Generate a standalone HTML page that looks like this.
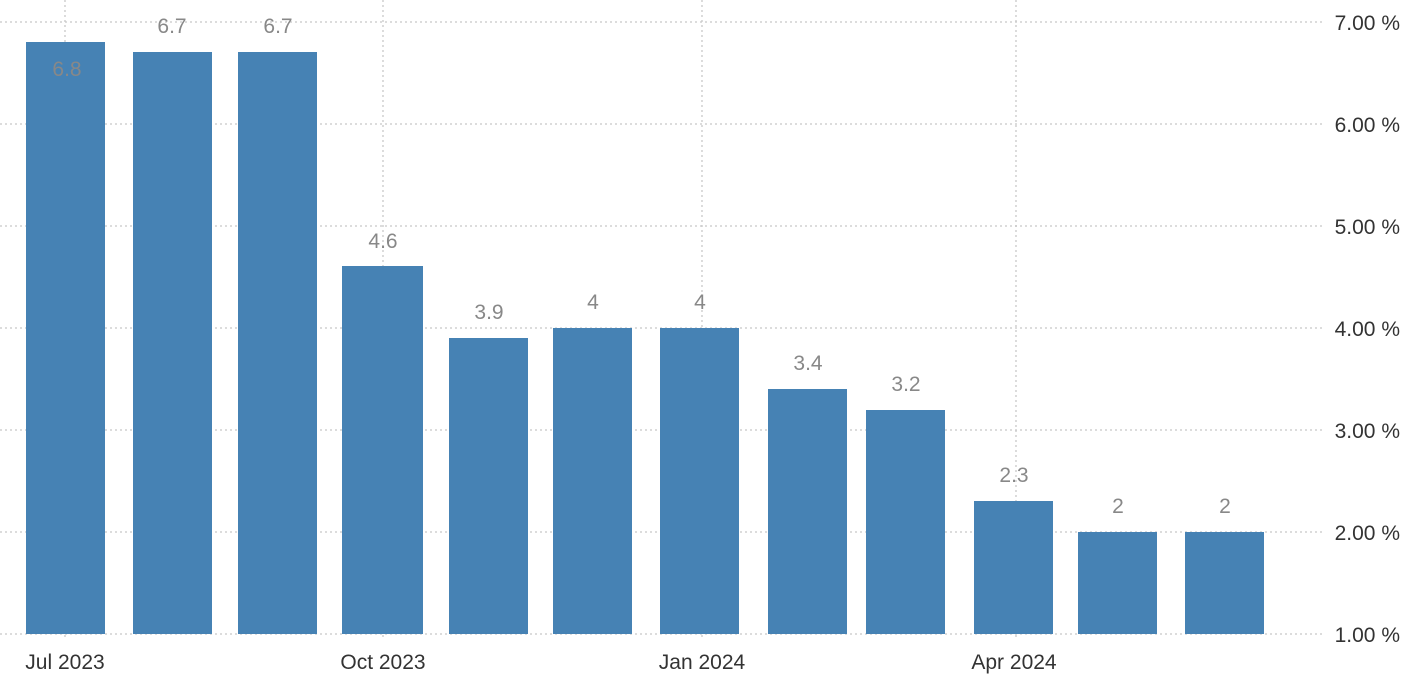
<!DOCTYPE html>
<html><head><style>
body{margin:0;background:#fff;width:1413px;height:689px;overflow:hidden}
svg{display:block}
text{font-family:"Liberation Sans",sans-serif}
</style></head><body>
<svg width="1413" height="689" xmlns="http://www.w3.org/2000/svg">
<g stroke="#c8c8c8" stroke-width="1.3" stroke-dasharray="2,3">
<line x1="0" y1="22" x2="1322" y2="22"/>
<line x1="0" y1="124" x2="1322" y2="124"/>
<line x1="0" y1="226" x2="1322" y2="226"/>
<line x1="0" y1="328" x2="1322" y2="328"/>
<line x1="0" y1="430" x2="1322" y2="430"/>
<line x1="0" y1="532" x2="1322" y2="532"/>
<line x1="0" y1="634" x2="1322" y2="634"/>
<line x1="65" y1="0" x2="65" y2="640"/>
<line x1="383" y1="0" x2="383" y2="640"/>
<line x1="702" y1="0" x2="702" y2="640"/>
<line x1="1016" y1="0" x2="1016" y2="640"/>
</g>
<g fill="#4682b4">
<rect x="26" y="42" width="79" height="592"/>
<rect x="133" y="52" width="79" height="582"/>
<rect x="238" y="52" width="79" height="582"/>
<rect x="342" y="266" width="81" height="368"/>
<rect x="449" y="338" width="79" height="296"/>
<rect x="553" y="328" width="79" height="306"/>
<rect x="660" y="328" width="79" height="306"/>
<rect x="768" y="389" width="79" height="245"/>
<rect x="866" y="410" width="79" height="224"/>
<rect x="974" y="501" width="79" height="133"/>
<rect x="1078" y="532" width="79" height="102"/>
<rect x="1185" y="532" width="79" height="102"/>
</g>
<g font-size="21" fill="#888" text-anchor="middle">
<text x="67" y="76">6.8</text>
<text x="172" y="33">6.7</text>
<text x="278" y="33">6.7</text>
<text x="383" y="248">4.6</text>
<text x="489" y="319">3.9</text>
<text x="593" y="309">4</text>
<text x="700" y="309">4</text>
<text x="808" y="370">3.4</text>
<text x="906" y="391">3.2</text>
<text x="1014" y="482">2.3</text>
<text x="1118" y="513">2</text>
<text x="1225" y="513">2</text>
</g>
<g font-size="21" fill="#333" text-anchor="end">
<text x="1400" y="30">7.00 %</text>
<text x="1400" y="132">6.00 %</text>
<text x="1400" y="234">5.00 %</text>
<text x="1400" y="336">4.00 %</text>
<text x="1400" y="438">3.00 %</text>
<text x="1400" y="540">2.00 %</text>
<text x="1400" y="642">1.00 %</text>
</g>
<g font-size="21" fill="#333" text-anchor="middle">
<text x="65" y="669">Jul 2023</text>
<text x="383" y="669">Oct 2023</text>
<text x="702" y="669">Jan 2024</text>
<text x="1014" y="669">Apr 2024</text>
</g>
</svg>
</body></html>
